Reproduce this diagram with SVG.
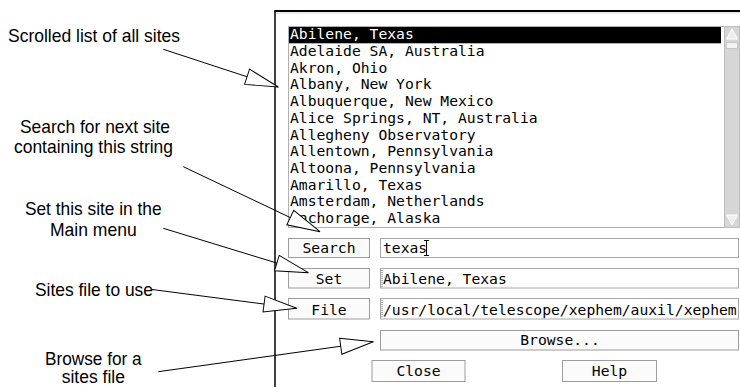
<svg xmlns="http://www.w3.org/2000/svg" width="740" height="387" viewBox="0 0 740 387">
<style>
.lbl{font-family:"Liberation Sans",Arial,sans-serif;font-size:18.5px;fill:#000;text-anchor:middle}
.sm{font-size:17.5px}
.mono{font-family:"DejaVu Sans Mono","Liberation Mono",monospace;font-size:14.7px;fill:#000}
.btn{fill:#fbfbfb;stroke:#9c9c9c;stroke-width:1}
.fld{fill:#fff;stroke:#a6a6a6;stroke-width:1}
.conn{stroke:#000;stroke-width:1;fill:none;marker-end:url(#hollow)}
.mid{text-anchor:middle}
</style>
<defs>
<marker id="hollow" markerUnits="userSpaceOnUse" markerWidth="36" markerHeight="18" refX="34" refY="8.3" orient="auto" viewBox="-1 -1 36 18.6">
<path d="M0,0 L34,8.3 L0,16.6 Z" fill="#fff" stroke="#000" stroke-width="1"/>
</marker>
</defs>
<rect width="740" height="387" fill="#fff"/>

<g id="dialog-frame">
<line x1="275" y1="11" x2="275" y2="387" stroke="#000" stroke-width="1.5"/>
<line x1="274.3" y1="11" x2="740" y2="11" stroke="#000" stroke-width="2"/>
<line x1="276" y1="13" x2="740" y2="13" stroke="#d8d8d8" stroke-width="1"/>
</g>

<g id="site-list">
<rect x="288.5" y="26.5" width="451" height="201" fill="#fff" stroke="#b0b0b0"/>
<rect x="289" y="27" width="432" height="16.3" fill="#000"/>
<text class="mono" x="290" y="39.3" style="fill:#fff">Abilene, Texas</text>
<text class="mono" x="290" y="56">Adelaide SA, Australia</text>
<text class="mono" x="290" y="72.7">Akron, Ohio</text>
<text class="mono" x="290" y="89.4">Albany, New York</text>
<text class="mono" x="290" y="106.1">Albuquerque, New Mexico</text>
<text class="mono" x="290" y="122.8">Alice Springs, NT, Australia</text>
<text class="mono" x="290" y="139.5">Allegheny Observatory</text>
<text class="mono" x="290" y="156.2">Allentown, Pennsylvania</text>
<text class="mono" x="290" y="172.9">Altoona, Pennsylvania</text>
<text class="mono" x="290" y="189.6">Amarillo, Texas</text>
<text class="mono" x="290" y="206.3">Amsterdam, Netherlands</text>
<text class="mono" x="290" y="223">Anchorage, Alaska</text>
</g>

<g id="scrollbar">
<rect x="724.5" y="26.5" width="15" height="201" fill="#d6d6d6" stroke="#bdbdbd"/>
<path d="M732,29 L737.5,39 L726.5,39 Z" fill="#eee" stroke="#fff"/>
<rect x="726.5" y="42.5" width="11" height="6" fill="#f4f4f4" stroke="#c4c4c4"/>
<path d="M726.5,215 L737.5,215 L732,225 Z" fill="#eee" stroke="#fff"/>
</g>

<g id="search-row">
<rect class="btn" x="288.5" y="238.5" width="81" height="19"/>
<text class="mono mid" x="329" y="253.3">Search</text>
<rect class="fld" x="380.5" y="238.5" width="358" height="19"/>
<text class="mono" x="383" y="253.3">texas</text>
<path d="M426.5,240.5 V255.5 M424,240.5 H429 M424,255.5 H429" stroke="#000" stroke-width="1" fill="none"/>
</g>

<g id="set-row">
<rect class="btn" x="288.5" y="268.5" width="81" height="19.5"/>
<text class="mono mid" x="329" y="283.8">Set</text>
<rect class="fld" x="380.5" y="268.5" width="358" height="19.5"/>
<line x1="382" y1="270" x2="382" y2="287" stroke="#555" stroke-dasharray="1,1"/>
<text class="mono" x="383" y="283.8">Abilene, Texas</text>
</g>

<g id="file-row">
<rect class="btn" x="288.5" y="298.5" width="81" height="20.5"/>
<text class="mono mid" x="329" y="314.5">File</text>
<rect class="fld" x="380.5" y="298.5" width="358" height="20.5"/>
<line x1="382" y1="300" x2="382" y2="318" stroke="#555" stroke-dasharray="1,1"/>
<text class="mono" x="383" y="314.5">/usr/local/telescope/xephem/auxil/xephem</text>
</g>

<g id="browse-button">
<rect class="btn" x="380.5" y="330.5" width="358" height="19.5"/>
<text class="mono mid" x="560" y="345">Browse...</text>
</g>

<g id="close-button">
<rect class="btn" x="372" y="360.5" width="93" height="21"/>
<text class="mono mid" x="418.5" y="376">Close</text>
</g>

<g id="help-button">
<rect class="btn" x="562.5" y="360.5" width="94" height="21"/>
<text class="mono mid" x="609.5" y="376">Help</text>
</g>

<g id="label-list"><text class="lbl" x="94" y="41.5" textLength="172" lengthAdjust="spacingAndGlyphs">Scrolled list of all sites</text></g>
<g id="label-search"><text class="lbl" x="95" y="133.3" textLength="150" lengthAdjust="spacingAndGlyphs">Search for next site</text><text class="lbl" x="93.5" y="153.3" textLength="159" lengthAdjust="spacingAndGlyphs">containing this string</text></g>
<g id="label-set"><text class="lbl" x="93.3" y="215" textLength="136.7" lengthAdjust="spacingAndGlyphs">Set this site in the</text><text class="lbl" x="93.3" y="236" textLength="86.7" lengthAdjust="spacingAndGlyphs">Main menu</text></g>
<g id="label-file"><text class="lbl" x="94" y="296" textLength="118" lengthAdjust="spacingAndGlyphs">Sites file to use</text></g>
<g id="label-browse"><text class="lbl sm" x="93.3" y="364.5" textLength="96.7" lengthAdjust="spacingAndGlyphs">Browse for a</text><text class="lbl sm" x="93.3" y="383.3" textLength="63.3" lengthAdjust="spacingAndGlyphs">sites file</text></g>

<g id="connectors">
<line class="conn" x1="163.3" y1="49.3" x2="278.3" y2="87"/>
<line class="conn" x1="183.3" y1="166.7" x2="320" y2="231.7"/>
<line class="conn" x1="163.3" y1="228.3" x2="308.3" y2="272.7"/>
<line class="conn" x1="152" y1="289.5" x2="296.7" y2="308.3"/>
<line class="conn" x1="158.3" y1="371.7" x2="373.3" y2="341.7"/>
</g>
</svg>
